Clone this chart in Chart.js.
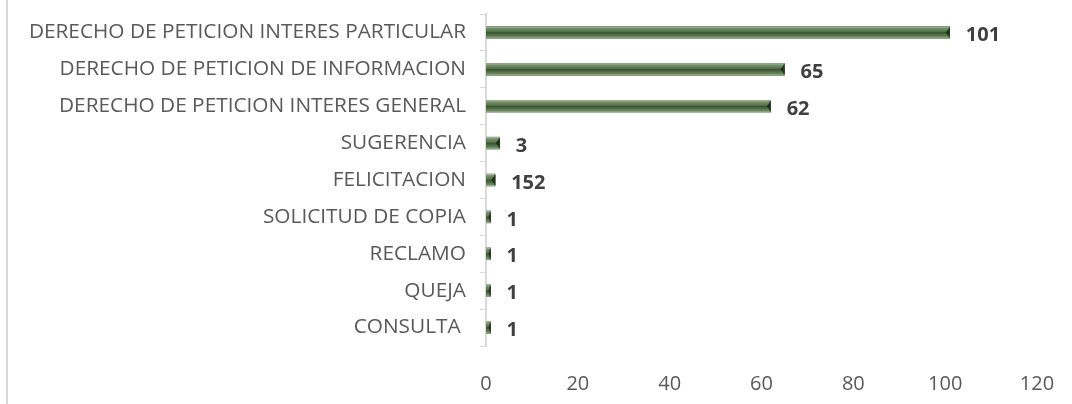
<!DOCTYPE html>
<html>
<head>
<meta charset="utf-8">
<script src="https://cdn.jsdelivr.net/npm/chart.js@4/dist/chart.umd.min.js"></script>
<style>
  html, body { margin: 0; padding: 0; background: #fff; }
  #wrap { position: relative; width: 1072px; height: 404px; }
  #edge { position: absolute; left: 6px; top: 0; width: 2px; height: 404px; background: #d9d9d9; }
  canvas { display: block; }
</style>
</head>
<body>
<div id="wrap">
  <div id="edge"></div>
  <canvas id="chart" width="1072" height="404"></canvas>
</div>
<script>
  // categories top to bottom, as in the picture
  const categories = [
    "DERECHO DE PETICION INTERES PARTICULAR",
    "DERECHO DE PETICION DE INFORMACION",
    "DERECHO DE PETICION INTERES GENERAL",
    "SUGERENCIA",
    "FELICITACION",
    "SOLICITUD DE COPIA",
    "RECLAMO",
    "QUEJA",
    "CONSULTA ",
  ];
  // bar lengths
  const values = [101, 65, 62, 3, 2, 1, 1, 1, 1];
  // text printed next to each bar (FELICITACION shows 152 on a tiny bar)
  const valueLabels = ["101", "65", "62", "3", "152", "1", "1", "1", "1"];
  const xTicks = [0, 20, 40, 60, 80, 100, 120];

  const FONT = "'Open Sans', 'Noto Sans', sans-serif";

  // gives the flat bars the bevelled "tube" look of the original
  const tubeBars = {
    id: "tubeBars",
    afterDatasetsDraw(chart) {
      const ctx = chart.ctx;
      chart.getDatasetMeta(0).data.forEach((bar) => {
        const p = bar.getProps(["x", "y", "base", "height"], true);
        const left = Math.min(p.base, p.x);
        const w = Math.abs(p.x - p.base);
        const top = p.y - p.height / 2;
        const h = p.height;
        const g = ctx.createLinearGradient(0, top, 0, top + h);
        g.addColorStop(0, "#b3c3ab");
        g.addColorStop(0.15, "#74916a");
        g.addColorStop(0.42, "#56734b");
        g.addColorStop(0.52, "#3a5232");
        g.addColorStop(0.62, "#47623e");
        g.addColorStop(0.85, "#68855b");
        g.addColorStop(1, "#a0b496");
        ctx.save();
        ctx.fillStyle = g;
        ctx.fillRect(left, top, w, h);
        // dark bevel at the bar's end
        const cap = Math.min(4, w * 0.45);
        ctx.fillStyle = "#1f2e1b";
        ctx.beginPath();
        ctx.moveTo(p.x, top + 1);
        ctx.lineTo(p.x - cap, top + h / 2);
        ctx.lineTo(p.x, top + h - 1);
        ctx.closePath();
        ctx.fill();
        ctx.fillStyle = "#2b3c26";
        ctx.fillRect(p.x - 1, top + 1, 1, h - 2);
        ctx.restore();
      });
    },
  };

  const valueText = {
    id: "valueText",
    afterDatasetsDraw(chart) {
      const ctx = chart.ctx;
      ctx.save();
      ctx.font = "bold 20px " + FONT;
      ctx.fillStyle = "#404040";
      ctx.textAlign = "left";
      ctx.textBaseline = "middle";
      chart.getDatasetMeta(0).data.forEach((bar, i) => {
        ctx.fillText(valueLabels[i], bar.x + 16, bar.y + 3);
      });
      ctx.restore();
    },
  };

  new Chart(document.getElementById("chart"), {
    type: "bar",
    data: {
      labels: categories,
      datasets: [{
        data: values,
        backgroundColor: "#56734b",
        borderWidth: 0,
        barThickness: 12,
      }],
    },
    options: {
      indexAxis: "y",
      responsive: false,
      animation: false,
      layout: { padding: { left: 0, right: 35, top: 14, bottom: 0 } },
      plugins: { legend: { display: false }, tooltip: { enabled: false } },
      scales: {
        x: {
          min: 0,
          max: 120,
          afterBuildTicks: (scale) => { scale.ticks = xTicks.map((v) => ({ value: v })); },
          grid: { display: false },
          border: { display: false },
          ticks: { color: "#595959", font: { family: FONT, size: 20 }, padding: 18 },
          afterFit: (scale) => { scale.height = 58; scale.paddingLeft = 0; scale.paddingRight = 0; },
        },
        y: {
          grid: { drawOnChartArea: false, color: "#d9d9d9", tickLength: 6 },
          border: { color: "#d9d9d9", width: 2 },
          ticks: { color: "#595959", font: { family: FONT, size: 20.8 }, padding: 14, autoSkip: false },
          afterFit: (scale) => { scale.width = 486; scale.paddingTop = 0; scale.paddingBottom = 0; },
        },
      },
    },
    plugins: [tubeBars, valueText],
  });
</script>
</body>
</html>
